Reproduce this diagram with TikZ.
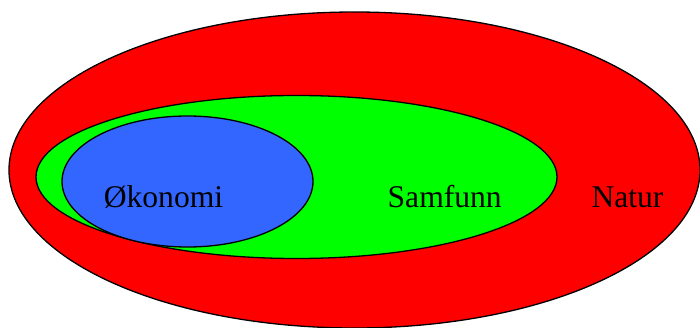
\documentclass[tikz,border=0pt]{standalone}
\usepackage{fontspec}
\setmainfont{Liberation Serif}
\usepackage{tikz}
\usetikzlibrary{positioning}
\definecolor{natur}{HTML}{FF0000}
\definecolor{samfunn}{HTML}{00FF00}
\definecolor{okonomi}{HTML}{3366FF}

\begin{document}
\begin{tikzpicture}[x=0.5pt,y=0.5pt,line width=0.65pt]
\useasboundingbox (0,0) rectangle (700,327);
\draw[fill=natur] (354.5,157) ellipse [x radius=345.5,y radius=158];
\draw[fill=samfunn] (296.5,150) ellipse [x radius=260.5,y radius=81.5];
\draw[fill=okonomi] (187.5,145.5) ellipse [x radius=125.5,y radius=65.5];
\node[anchor=base,inner sep=0pt,font=\fontsize{15.8}{18}\selectfont] (oko) at (163.5,120) {Økonomi};
\node[anchor=base,inner sep=0pt,font=\fontsize{15.8}{18}\selectfont] (sam) at (444.7,120) {Samfunn};
\node[anchor=base,inner sep=0pt,font=\fontsize{15.8}{18}\selectfont] (nat) at (627.5,120) {Natur};
\end{tikzpicture}
\end{document}
